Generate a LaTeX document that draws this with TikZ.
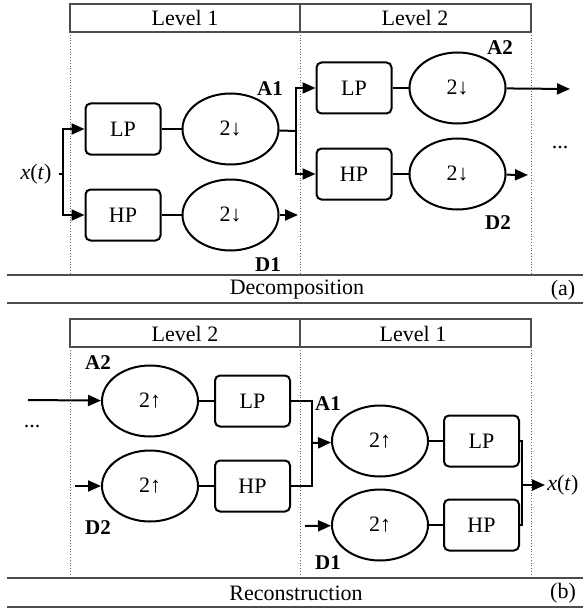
\documentclass[tikz,border=0pt]{standalone}
\usepackage{fontspec}
\setmainfont{Liberation Serif}
\usetikzlibrary{arrows.meta, positioning, shapes.geometric}
\tikzset{
  filt/.style={rectangle,rounded corners=2.5pt,draw,line width=1pt,minimum width=37.5pt,minimum height=25.5pt,inner sep=1pt},
  samp/.style={ellipse,draw,line width=1pt,minimum width=48pt,minimum height=35.5pt,inner sep=1pt},
  sig/.style={font=\fontsize{10.5}{12}\selectfont\bfseries},
  flow/.style={-{Triangle[length=6.5pt,width=5.5pt]}, line width=1pt},
  wire/.style={line width=1pt},
  band/.style={line width=0.8pt, color=black!70},
  sep/.style={densely dotted, color=black!60}
}

\begin{document}
\begin{tikzpicture}[x=0.5pt, y=-0.5pt, font=\fontsize{11}{13}\selectfont]
  \useasboundingbox (0,0) rectangle (586,615);

  % (a) decomposition
  \draw[band] (70,4) rectangle (300,32) (300,4) rectangle (531,32);
  \node (lev1a) at (185,18) {Level 1};
  \node (lev2a) at (415,18) {Level 2};
  \draw[sep] (70,32) -- (70,275) (300,32) -- (300,275) (531,32) -- (531,275);
  \draw[band] (7,275) -- (583,275) (7,303) -- (583,303);
  \node (deco) at (297,290) {Decomposition};
  \node (taga) at (563,290) {(a)};

  \node (xin) at (36,174) {\textit{x}(\textit{t})};
  \coordinate (s1) at (63,174);
  \node[filt] (lp1) at (123,129) {LP};
  \node[samp, right=10pt of lp1] (ds1) {2↓};
  \node[filt] (hp1) at (123,215) {HP};
  \node[samp, right=10pt of hp1] (ds1b) {2↓};
  \coordinate (j1) at (296,131);
  \coordinate (d1out) at (298,215);
  \node[sig] (a1) at (270,89) {A1};
  \node[sig] (d1) at (268,265) {D1};

  \node[filt] (lp2) at (354,88) {LP};
  \node[samp, right=8pt of lp2] (ds2) {2↓};
  \node[filt] (hp2) at (354,174) {HP};
  \node[samp, right=8pt of hp2] (ds2b) {2↓};
  \coordinate (a2out) at (570,89);
  \coordinate (d2out) at (528,175);
  \node[sig] (a2) at (500,48) {A2};
  \node[sig] (d2) at (498,223) {D2};
  \node (dotsa) at (560,148) {...};

  \draw[wire] (xin) -- (s1);
  \draw[flow] (s1) |- (lp1);
  \draw[flow] (s1) |- (hp1);
  \draw[wire] (lp1) -- (ds1);
  \draw[wire] (hp1) -- (ds1b);
  \draw[flow] (ds1b) -- (d1out);
  \draw[wire] (ds1) -- (j1);
  \draw[flow] (j1) |- (lp2);
  \draw[flow] (j1) |- (hp2);
  \draw[wire] (lp2) -- (ds2);
  \draw[wire] (hp2) -- (ds2b);
  \draw[flow] (ds2) -- (a2out);
  \draw[flow] (ds2b) -- (d2out);

  % (b) reconstruction
  \draw[band] (70,319) rectangle (300,347) (300,319) rectangle (531,347);
  \node (lev2b) at (185,334) {Level 2};
  \node (lev1b) at (413,334) {Level 1};
  \draw[sep] (70,347) -- (70,578) (300,347) -- (300,578) (531,347) -- (531,578);
  \draw[band] (7,578) -- (583,578) (7,607) -- (583,607);
  \node (reco) at (296,593) {Reconstruction};
  \node (tagb) at (563,593) {(b)};

  \node (dotsb) at (32,427) {...};
  \coordinate (a2in) at (28,400);
  \coordinate (d2in) at (75,486);
  \node[samp] (us3) at (150,401) {2↑};
  \node[filt, right=7.5pt of us3] (lp3) {LP};
  \node[samp] (us3b) at (150,486) {2↑};
  \node[filt, right=7.5pt of us3b] (hp3) {HP};
  \node[sig] (a2b) at (98,363) {A2};
  \node[sig] (d2b) at (98,528) {D2};
  \coordinate (j3) at (312,443);

  \node[samp] (us4) at (380,441) {2↑};
  \node[filt, right=7pt of us4] (lp4) {LP};
  \node[samp] (us4b) at (380,525) {2↑};
  \node[filt, right=7pt of us4b] (hp4) {HP};
  \coordinate (d1in) at (305,526);
  \node[sig] (a1b) at (328,404) {A1};
  \node[sig] (d1b) at (328,563) {D1};
  \coordinate (j4) at (522,485);
  \node[anchor=west, inner sep=1pt] (xout) at (545,485) {\textit{x}(\textit{t})};

  \draw[flow] (a2in) -- (us3);
  \draw[flow] (d2in) -- (us3b);
  \draw[wire] (us3) -- (lp3);
  \draw[wire] (us3b) -- (hp3);
  \draw[wire] (lp3) -| (j3);
  \draw[wire] (hp3) -| (j3);
  \draw[flow] (j3) -- (us4);
  \draw[flow] (d1in) -- (us4b);
  \draw[wire] (us4) -- (lp4);
  \draw[wire] (us4b) -- (hp4);
  \draw[wire] (lp4) -| (j4);
  \draw[wire] (hp4) -| (j4);
  \draw[flow] (j4) -- (xout);
\end{tikzpicture}
\end{document}
